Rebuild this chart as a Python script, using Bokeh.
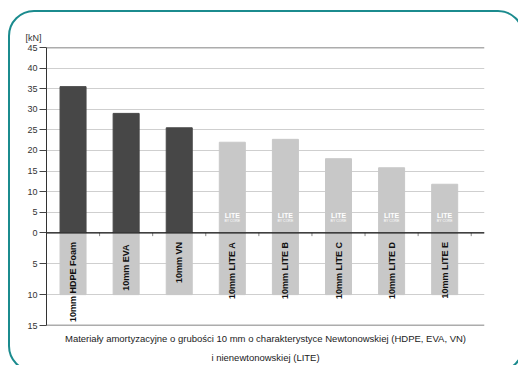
import math
from bokeh.plotting import figure
from bokeh.models import Range1d, FixedTicker, Span, Title, ColumnDataSource, InlineStyleSheet
from bokeh.core.properties import value
from bokeh.embed import file_html
from bokeh.resources import INLINE

# ---- data ----
categories = ["10mm HDPE Foam", "10mm  EVA", "10mm VN", "10mm LITE A",
              "10mm LITE B", "10mm LITE C", "10mm LITE D", "10mm LITE E"]
force_kn = [35.5, 29.0, 25.5, 22.0, 22.7, 18.0, 15.8, 11.8]
thickness_mm = [10, 10, 10, 10, 10, 10, 10, 10]
is_lite = [False, False, False, True, True, True, True, True]
upper_ticks = [0, 5, 10, 15, 20, 25, 30, 35, 40, 45]
lower_ticks = [5, 10, 15]
caption1 = "Materiały amortyzacyjne o grubości 10 mm o charakterystyce Newtonowskiej (HDPE, EVA, VN)"
caption2 = "i nienewtonowskiej (LITE)"
unit_label = "[kN]"

LOWER_SCALE = 1.5  # lower (thickness) part is drawn on a stretched scale

FONT = "Liberation Sans"

n = len(categories)
xs = list(range(n))

L, R, T, B = 46, 34, 47, 40
W, H = 518, 365

card_css = InlineStyleSheet(css="""
:host { position: relative; overflow: hidden; }
:host::after {
  content: ""; position: absolute; left: 8px; top: 10px; width: 516px; height: 362px;
  box-sizing: border-box; border: 2px solid #1b8b8e; border-radius: 26px; pointer-events: none;
}
""")

p = figure(width=W, height=H, output_backend="svg", toolbar_location=None,
           x_range=Range1d(-0.5, 7.75), y_range=Range1d(-max(lower_ticks) * LOWER_SCALE, max(upper_ticks)),
           min_border_left=L, min_border_right=R, min_border_top=T, min_border_bottom=B,
           stylesheets=[card_css])
p.background_fill_color = "white"
p.border_fill_color = "white"
p.outline_line_color = None

# axes
p.xaxis.visible = False
ticks = upper_ticks + [-t * LOWER_SCALE for t in lower_ticks]
p.yaxis.ticker = FixedTicker(ticks=ticks)
p.yaxis.major_label_overrides = {-t * LOWER_SCALE: str(t) for t in lower_ticks}
p.yaxis.minor_tick_line_color = None
p.yaxis.major_tick_out = 7
p.yaxis.major_tick_in = 0
p.yaxis.major_tick_line_color = "#444444"
p.yaxis.axis_line_color = "#333333"
p.yaxis.axis_line_width = 1
p.yaxis.major_label_text_font = FONT
p.yaxis.major_label_text_font_size = "9px"
p.yaxis.major_label_text_color = "#333333"
p.yaxis.major_label_standoff = 2

p.xgrid.visible = False
p.ygrid.ticker = FixedTicker(ticks=ticks)
p.ygrid.grid_line_color = "#cfcfcf"
p.ygrid.grid_line_width = 1

# bars
src = ColumnDataSource(dict(
    x=xs, top=force_kn,
    color=["#c8c8c8" if l else "#474747" for l in is_lite],
    low=[-t * LOWER_SCALE for t in thickness_mm],
    label=categories,
))
p.vbar(x="x", top="top", bottom=0, width=0.49, color="color", source=src)
p.vbar(x="x", top=0, bottom="low", width=0.49, color="#c8c8c8", source=src)

# frame lines
p.add_layout(Span(location=max(upper_ticks), dimension="width", line_color="#5a5a5a", line_width=1.5))
p.add_layout(Span(location=0, dimension="width", line_color="#111111", line_width=1.2))
p.add_layout(Span(location=-max(lower_ticks) * LOWER_SCALE, dimension="width", line_color="#5a5a5a", line_width=1.5))

# small ticks on zero line between categories
p.segment(x0=[x + 0.5 for x in xs], x1=[x + 0.5 for x in xs], y0=0, y1=-0.8,
          line_color="#888888", line_width=1)

# category labels inside lower bars
p.text(x="x", y=-2.2, text="label", angle=math.pi / 2, text_align="right", text_baseline="middle",
       text_font=value(FONT), text_font_style="bold", text_font_size="9px", text_color="#111111", source=src)

# LITE logos
lx = [x for x, l in zip(xs, is_lite) if l]
p.text(x=lx, y=[4.3] * len(lx), text=["LITE"] * len(lx), text_align="center", text_baseline="middle",
       text_font=value(FONT), text_font_style="bold", text_font_size="7px", text_color="white")
p.text(x=lx, y=[2.9] * len(lx), text=["BY CORE"] * len(lx), text_align="center", text_baseline="middle",
       text_font=value(FONT), text_font_size="3.5px", text_color="white")

# unit label (above) and caption (below)
p.add_layout(Title(text=unit_label, align="left", offset=-21, standoff=9, text_font=FONT,
                   text_font_size="9px", text_font_style="normal", text_color="#333333"), "above")
p.add_layout(Title(text=caption1, align="center", offset=-6, standoff=11, text_font=FONT,
                   text_font_size="9.5px", text_font_style="normal", text_color="#222222",
                   text_line_height=0.9), "below")
p.add_layout(Title(text=caption2, align="center", offset=-6, standoff=0, text_font=FONT,
                   text_font_size="9.5px", text_font_style="normal", text_color="#222222",
                   text_line_height=0.9), "below")

open("out.html", "w").write(file_html(p, INLINE))
